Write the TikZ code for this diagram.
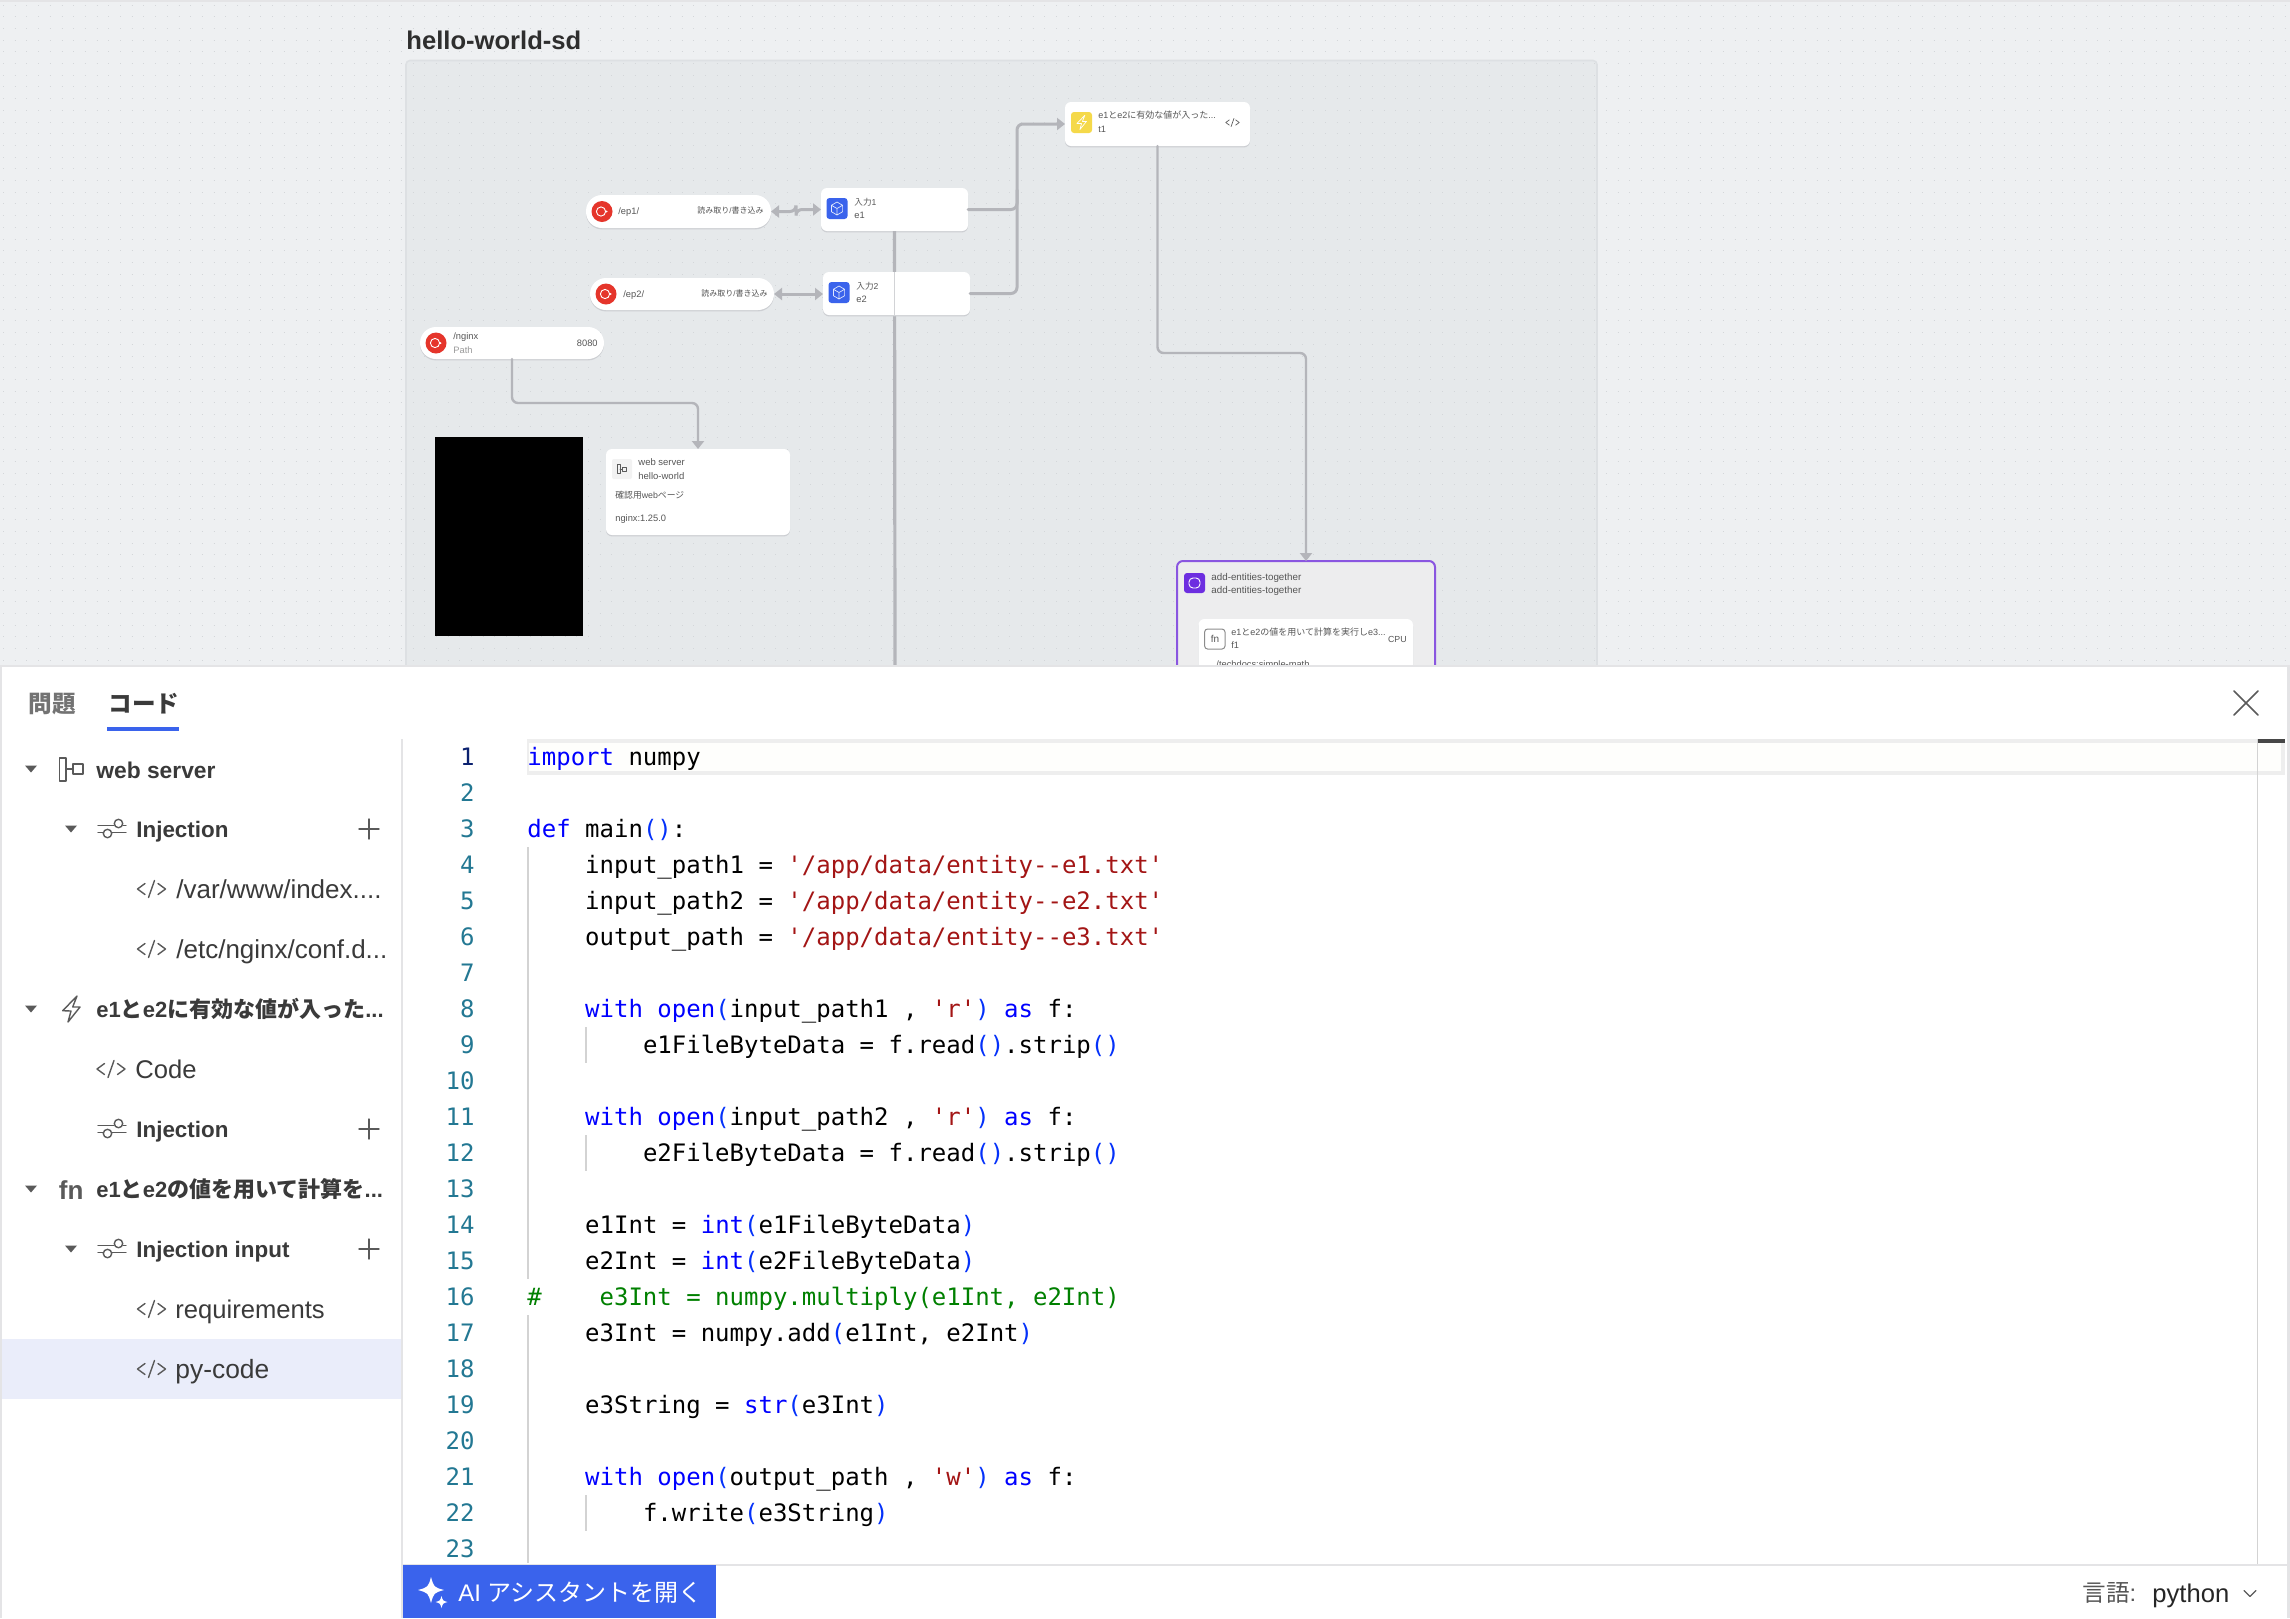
\documentclass[tikz,border=0pt]{standalone}
\usepackage{fontspec}
\usetikzlibrary{arrows.meta,calc}
\setmainfont{Liberation Sans}
\newfontfamily\jp{Noto Sans CJK JP}
\newfontfamily\mono{DejaVu Sans Mono}
\newcommand\J[1]{{\jp #1}}
\definecolor{bgtop}{HTML}{EEF0F2}
\definecolor{panelbg}{HTML}{E6E9EB}
\definecolor{panelln}{HTML}{DDE0E3}
\definecolor{dotc}{HTML}{D3D6D9}
\definecolor{conn}{HTML}{B4B5BA}
\definecolor{shad}{HTML}{CDCFD3}
\definecolor{txt}{HTML}{555555}
\definecolor{uidark}{HTML}{3A3A3A}
\definecolor{icong}{HTML}{5A5A5A}
\definecolor{redi}{HTML}{E5352B}
\definecolor{bluei}{HTML}{3A63EC}
\definecolor{yeli}{HTML}{F5D94A}
\definecolor{puri}{HTML}{6D2EE0}
\definecolor{purl}{HTML}{8A56E0}
\definecolor{frbg}{HTML}{EDEDEE}
\definecolor{sep}{HTML}{E4E4E6}
\definecolor{hl}{HTML}{EAEDFA}
\definecolor{tabb}{HTML}{3A63EC}
\definecolor{kwc}{HTML}{0000FF}
\definecolor{brc}{HTML}{0431FA}
\definecolor{stc}{HTML}{A31515}
\definecolor{cmc}{HTML}{008000}
\definecolor{lnc}{HTML}{237893}
\definecolor{lna}{HTML}{0B216F}
\definecolor{guide}{HTML}{D3D3D3}
\definecolor{curln}{HTML}{EEEEEE}
\definecolor{curfill}{HTML}{FEFEFC}
\newcommand\kw[1]{\textcolor{kwc}{#1}}
\newcommand\br[1]{\textcolor{brc}{#1}}
\newcommand\st[1]{\textcolor{stc}{#1}}
\tikzset{
  wh/.style 2 args={minimum width=#1*0.5pt,minimum height=#2*0.5pt},
  cardn/.style={fill=white,inner sep=0,outer sep=0,rounded corners=3pt,
    preaction={fill=shad,transform canvas={yshift=-.7pt}}},
  pilln/.style={cardn,rounded corners=8pt},
  lab/.style={inner sep=0,anchor=base west,text=txt,font=\fontsize{#1}{#1}\selectfont,yshift=-0.36pt*#1},
  blab/.style={inner sep=0,anchor=base west,text=uidark,font=\bfseries\fontsize{#1}{#1}\selectfont,yshift=-0.4pt*#1},
  rlab/.style={lab=#1,anchor=base east},
  codet/.style={inner sep=0,anchor=base west,text=black,font=\mono\fontsize{12}{12}\selectfont,yshift=-4.2pt},
  numt/.style={inner sep=0,anchor=base east,text=lnc,font=\mono\fontsize{12}{12}\selectfont,yshift=-4.2pt},
  wire/.style={draw=conn,line width=1.25pt,rounded corners=3pt,line cap=round},
  wiret/.style={wire,-{Triangle[length=4pt,width=6pt]}},
  wireb/.style={wire,{Triangle[length=4pt,width=6pt]}-{Triangle[length=4pt,width=6pt]}},
  ic/.style={draw=icong,line width=.7pt,line cap=round,line join=round},
  wi/.style={draw=white,line width=.45pt,line join=round},
  guideln/.style={draw=guide,line width=1pt},
}
\newcommand\codeicon[4][.7pt]{\begin{scope}[shift={(#2,#3)},scale=#4]
  \draw[ic,line width=#1] (-6.5,-5.5)--(-14,0)--(-6.5,5.5) (3,-8.5)--(-3,8.5) (6.5,-5.5)--(14,0)--(6.5,5.5);
\end{scope}}
\newcommand\sliders[2]{\begin{scope}[shift={(#1,#2)}]
  \draw[ic] (-14,-3.5)--(2,-3.5) (11,-3.5)--(14,-3.5) (-14,3.5)--(-9,3.5) (0,3.5)--(14,3.5);
  \draw[ic] (6.5,-5.5) circle (4.2) (-4.5,4.5) circle (4.2);
\end{scope}}
\newcommand\tri[2]{\fill[icong] ({#1-6},{#2-3.5})--({#1+6},{#2-3.5})--(#1,{#2+3.5})--cycle;}
\newcommand\plusi[2]{\draw[ic] ({#1-10},#2)--({#1+10},#2) (#1,{#2-10})--(#1,{#2+10});}
\newcommand\bolt[5][.7pt]{\begin{scope}[shift={(#2,#3)},scale=#4]
  \draw[ic,draw=#5,line width=#1] (6,-13)--(-8.3,1.7)--(0,2)--(-3,13)--(9,-2)--(1.7,-2)--cycle;
\end{scope}}
\newcommand\redicon[2]{\fill[redi] (#1,#2) circle (10.5);
  \draw[wi] ({#1-1},#2) circle (4.6); \fill[white] ({#1+4.5},#2) circle (1);}
\newcommand\cubeicon[2]{\fill[bluei,rounded corners=1.5pt] ({#1-10.5},{#2-10.5}) rectangle ({#1+10.5},{#2+10.5});
  \begin{scope}[shift={(#1,#2)}]
  \draw[wi,draw=white!85!bluei,line width=.35pt] (0,-6.5)--(5.6,-3.2)--(5.6,3.2)--(0,6.5)--(-5.6,3.2)--(-5.6,-3.2)--cycle (-5.6,-3.2)--(0,0)--(5.6,-3.2) (0,0)--(0,6.5);
  \end{scope}}
\newcommand\spark[3]{\begin{scope}[shift={(#1,#2)},scale=#3]
  \fill[white] (0,-1) .. controls (.22,-.22) .. (1,0) .. controls (.22,.22) .. (0,1) .. controls (-.22,.22) .. (-1,0) .. controls (-.22,-.22) .. (0,-1) -- cycle;
\end{scope}}
\newcommand\cl[3]{\node[codet] (ln#1) at ({527+#2*14.45},{757+36*(#1-1)}) {#3};}
\begin{document}
\begin{tikzpicture}[x=0.5pt,y=-0.5pt]
\useasboundingbox (0,0) rectangle (2290,1618);
% canvas
\fill[bgtop] (0,0) rectangle (2290,680);
\fill[sep] (0,0) rectangle (2290,2);
\fill[panelbg,draw=panelln,line width=.8pt,rounded corners=2pt] (406,60.5) rectangle (1597,690);
\foreach \i in {0,...,57}{
  \draw[dotc,line width=.5pt,dash pattern=on .5pt off 5.35pt] (3,{5+11.7*\i}) -- (2290,{5+11.7*\i});
}
\node[blab=12.8,text=black!82] (title) at (406,39) {hello-world-sd};
% first-layer nodes under connectors
\node[cardn,wh={147}{43}] (e1) at (894.5,209.5) {};
\coordinate (e1end) at (895,667);
\draw[wire,line cap=butt,line width=1.6pt] (e1.south) -- (e1end);
\node[cardn,wh={147}{43}] (e2) at (896.5,293.5) {};
\draw[draw=conn!60,line width=.9pt] (e2.north -| e1.south) -- (e2.south -| e1.south);
\node[pilln,wh={185}{33}] (ep1) at (678.5,211.5) {};
\node[pilln,wh={184}{32}] (ep2) at (682,294) {};
\node[pilln,wh={184}{32}] (nginx) at (512,343) {};
\node[cardn,wh={184}{86}] (web) at (698,492) {};
\node[cardn,wh={185}{44}] (t1) at (1157.5,124) {};
\node[draw=purl,fill=frbg,line width=1pt,inner sep=0,outer sep=0,rounded corners=3pt,wh={258}{199}] (frame) at (1306,660.5) {};
\node[cardn,wh={214.5}{121}] (f1) at (1305.75,679.5) {};
% connectors
\coordinate (j1) at (1017,209.5);
\coordinate (j2) at (1017,293.5);
\coordinate (j3) at (1017,190);
\coordinate (ng1) at (512,403);
\coordinate (t1m) at (1157.5,353);
\draw[wireb,line width=1.5pt] (ep1.east) -- (796,211.5) -- (796,209.5) -- (e1.west);
\draw[wireb,line width=1.5pt] (ep2.east) -- (e2.west |- ep2.east);
\draw[wiret,line width=1.5pt] (e1.east) -- (j1) |- (t1.west);
\draw[wire,line width=1.5pt] (e2.east) -- (j2) -- (j3);
\draw[wiret,line width=1.2pt] (nginx.south) -- (ng1) -| (web.north);
\draw[wiret,line width=1.2pt] (t1.south) -- (t1m) -| (frame.north);
% ep1
\redicon{602}{211.5}
\node[lab=4.65] (ep1a) at (618,211) {/ep1/};
\node[rlab=4] (ep1b) at (764,211) {\J{読み取り}/\J{書き込み}};
\redicon{606}{294}
\node[lab=4.65] (ep2a) at (623,294) {/ep2/};
\node[rlab=4] (ep2b) at (768,294) {\J{読み取り}/\J{書き込み}};
\redicon{436}{343}
\node[lab=4.65] (ngxa) at (453,336) {/nginx};
\node[lab=4.65,text=black!40] (ngxb) at (453,350) {Path};
\node[rlab=4.65] (ngxc) at (598,343) {8080};
% e1, e2
\cubeicon{837}{208.5}
\node[lab=4.3] (e1a) at (854,202) {\J{入力}1};
\node[lab=4.65] (e1b) at (854,215) {e1};
\cubeicon{839}{292.5}
\node[lab=4.3] (e2a) at (856,286) {\J{入力}2};
\node[lab=4.65] (e2b) at (856,299) {e2};
% t1
\fill[yeli,rounded corners=1.5pt] (1071,112) rectangle (1092,133);
\bolt[.35pt]{1081.5}{122.5}{.55}{white}
\node[lab=4.5] (t1a) at (1098,115.6) {e1\J{と}e2\J{に有効な値が入った}...};
\node[lab=4.6] (t1b) at (1098,129) {t1};
\codeicon[.35pt]{1232.5}{122.5}{.48}
% web
\fill[black!5,rounded corners=1pt] (612,459) rectangle (632,479);
\begin{scope}[shift={(622,469)},scale=.5]
  \draw[ic,line width=.4pt] (-9,-9) rectangle (-4,9) (-4,0)--(1,0) (1,-4) rectangle (9,4);
\end{scope}
\node[lab=4.75] (weba) at (638,462) {web server};
\node[lab=4.75] (webb) at (638,476) {hello-world};
\node[lab=4.4] (webc) at (615,495.5) {\J{確認用}web\J{ページ}};
\node[lab=4.65] (webd) at (615,518) {nginx:1.25.0};
% black rectangle
\fill[black] (435,437) rectangle (583,636);
% add-entities
\fill[puri,rounded corners=1.5pt] (1184,573) rectangle (1205,593);
\draw[wi,rounded corners=2pt] (1189,578) rectangle (1200,588);
\node[lab=4.9] (fra) at (1211,576.5) {add-entities-together};
\node[lab=4.9] (frb) at (1211,589.6) {add-entities-together};
\draw[draw=black!45,line width=.5pt,rounded corners=1.5pt] (1204.6,629) rectangle (1225,649);
\node[lab=5,anchor=base,text=txt] (fna) at (1215,639) {fn};
\node[lab=4.5] (fnb) at (1231,632) {e1\J{と}e2\J{の値を用いて計算を実行し}e3...};
\node[lab=4.6] (fnc) at (1231,645) {f1};
\node[rlab=4.4] (fnd) at (1407,639.4) {CPU};
\node[lab=4.65] (fne) at (1216,664) {/techdocs:simple-math};
% lower panel
\fill[sep] (0,665) rectangle (2290,1618);
\fill[white] (2,667) rectangle (2286.5,1618);
\node[blab=11.8,text=black!55] (tab1) at (28,703) {\J{問題}};
\node[blab=11.8] (tab2) at (108,703) {\J{コード}};
\fill[tabb] (107,727) rectangle (179,731);
\fill[hl] (2,1339) rectangle (402,1399);
\draw[sep,line width=1pt] (402,739) -- (402,1618);
% tree
\tri{31}{769}
\begin{scope}[shift={(71,769)}]
  \draw[ic] (-11.5,-11) rectangle (-5,12) (-5,0)--(2,0) (2,-5) rectangle (12,5);
\end{scope}
\node[blab=11.4] (tr1) at (96,769) {web server};
\tri{71}{829} \sliders{112}{829}
\node[blab=11.2] (tr2) at (136,829) {Injection};
\plusi{369}{829}
\codeicon{151.5}{889}{1}
\node[lab=13,text=uidark] (tr3) at (176,889) {/var/www/index....};
\codeicon{151.5}{949}{1}
\node[lab=13,text=uidark] (tr4) at (176,949) {/etc/nginx/conf.d...};
\tri{31}{1009}
\bolt{71}{1009}{1}{icong}
\node[blab=11] (tr5) at (96,1009) {e1\J{と}e2\J{に有効な値が入った}...};
\codeicon{111}{1069}{1}
\node[lab=12.8,text=uidark] (tr6) at (135,1069) {Code};
\sliders{112}{1129}
\node[blab=11.2] (tr7) at (136,1129) {Injection};
\plusi{369}{1129}
\tri{31}{1189}
\node[blab=13,text=icong] (tr8a) at (58.5,1189) {fn};
\node[blab=11] (tr8) at (96,1189) {e1\J{と}e2\J{の値を用いて計算を}...};
\tri{71}{1249} \sliders{112}{1249}
\node[blab=11.2] (tr9) at (136,1249) {Injection input};
\plusi{369}{1249}
\codeicon{151.5}{1309}{1}
\node[lab=12.8,text=uidark] (tr10) at (175,1309) {requirements};
\codeicon{151.5}{1369}{1}
\node[lab=13.2,text=uidark] (tr11) at (175,1369) {py-code};
% close icon
\draw[ic,line width=.8pt] (2234,691)--(2258,715) (2258,691)--(2234,715);
% current line
\fill[curfill] (527,739) rectangle (2285,775);
\draw[curln,line width=2pt] (528,741) -- (2283,741) -- (2283,773) -- (528,773);
\draw[curln,line width=1pt] (528,739) -- (528,775);
% guides
\draw[guideln,line width=1.2pt] (528,847)--(528,1279) (528,1315)--(528,1563);
\draw[guideln] (586,1027)--(586,1063) (586,1135)--(586,1171) (586,1495)--(586,1531);
\draw[guide,line width=.5pt] (2257,739)--(2257,1564);
\fill[black!72] (2258,739) rectangle (2285,743);
% numbers
\foreach \n in {2,...,23}{ \node[numt] (num\n) at (475,{757+36*(\n-1)}) {\n}; }
\node[numt,text=lna] (num1) at (475,757) {1};
% code
\cl{1}{0}{\kw{import} numpy}
\cl{3}{0}{\kw{def} main\br{()}:}
\cl{4}{4}{input\_path1 = \st{'/app/data/entity{-}{-}e1.txt'}}
\cl{5}{4}{input\_path2 = \st{'/app/data/entity{-}{-}e2.txt'}}
\cl{6}{4}{output\_path = \st{'/app/data/entity{-}{-}e3.txt'}}
\cl{8}{4}{\kw{with open}\br{(}input\_path1 , \st{'r'}\br{)} \kw{as} f:}
\cl{9}{8}{e1FileByteData = f.read\br{()}.strip\br{()}}
\cl{11}{4}{\kw{with open}\br{(}input\_path2 , \st{'r'}\br{)} \kw{as} f:}
\cl{12}{8}{e2FileByteData = f.read\br{()}.strip\br{()}}
\cl{14}{4}{e1Int = \kw{int}\br{(}e1FileByteData\br{)}}
\cl{15}{4}{e2Int = \kw{int}\br{(}e2FileByteData\br{)}}
\cl{16}{0}{\textcolor{cmc}{\#\ \ \ \ e3Int = numpy.multiply(e1Int, e2Int)}}
\cl{17}{4}{e3Int = numpy.add\br{(}e1Int, e2Int\br{)}}
\cl{19}{4}{e3String = \kw{str}\br{(}e3Int\br{)}}
\cl{21}{4}{\kw{with open}\br{(}output\_path , \st{'w'}\br{)} \kw{as} f:}
\cl{22}{8}{f.write\br{(}e3String\br{)}}
% bottom bar
\fill[white] (403,1566) rectangle (2286.5,1618);
\draw[sep,line width=1pt] (403,1565)--(2286.5,1565);
\fill[bluei] (403,1565) rectangle (716,1618);
\spark{431}{1590}{13}
\spark{441.5}{1602}{6}
\node[lab=12,text=white] (ai) at (458,1593) {AI \J{アシスタントを開く}};
\node[lab=11.8] (lang) at (2082,1593) {\J{言語}:};
\node[lab=12.8,text=black!85] (py) at (2152,1593) {python};
\draw[ic,line width=.6pt] (2244,1590.5)--(2250,1596.5)--(2256,1590.5);
\end{tikzpicture}
\end{document}
